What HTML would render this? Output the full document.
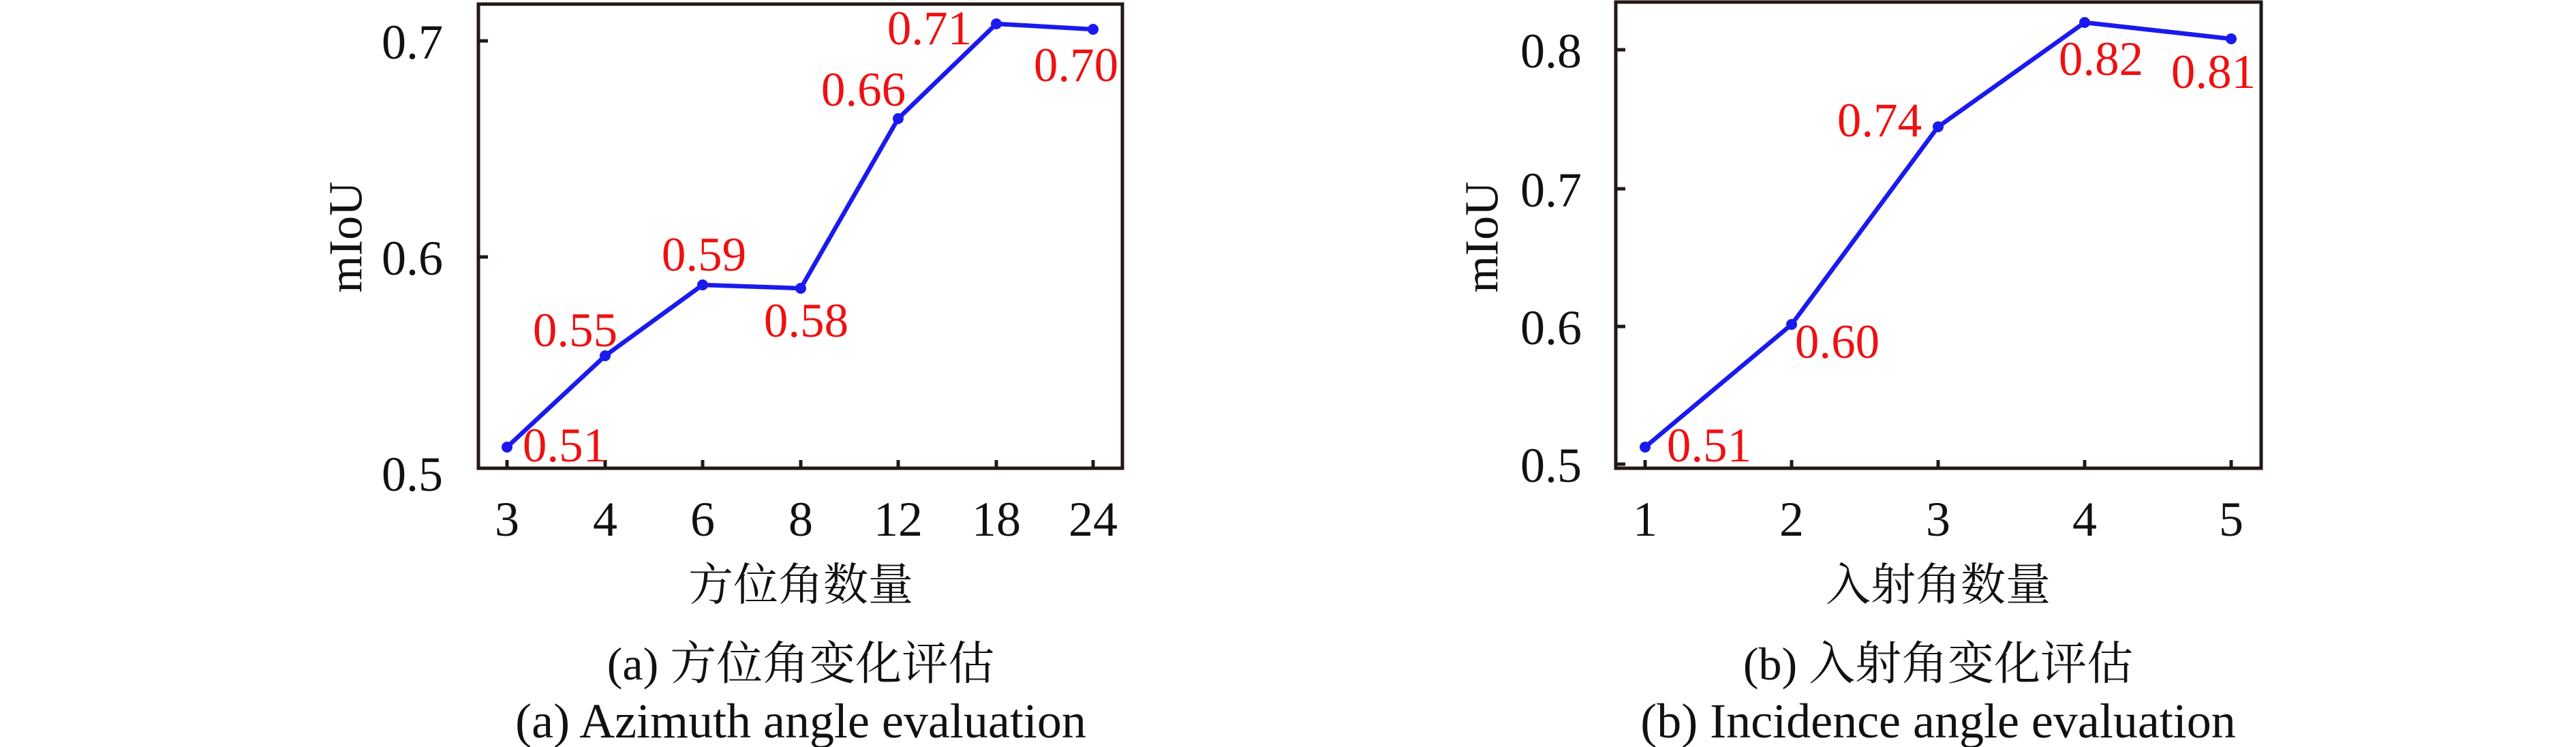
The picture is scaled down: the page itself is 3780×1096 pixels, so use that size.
<!DOCTYPE html>
<html><head><meta charset="utf-8"><style>
html,body{margin:0;padding:0;background:#fff;}
svg{display:block;}
text{font-family:"Liberation Serif","Noto Serif CJK SC",serif;}
.cj{font-family:"Liberation Serif","Noto Serif CJK SC","Noto Sans CJK SC",serif;}
</style></head><body>
<svg width="3780" height="1096" viewBox="0 0 3780 1096" xmlns="http://www.w3.org/2000/svg">
<!-- Left plot -->
<g stroke="#231815" stroke-width="5" fill="none">
<rect x="702" y="6" width="945" height="681"/>
<line x1="702" y1="60" x2="716" y2="60"/>
<line x1="702" y1="377" x2="716" y2="377"/>
<line x1="744" y1="687" x2="744" y2="675"/><line x1="888" y1="687" x2="888" y2="675"/>
<line x1="1031" y1="687" x2="1031" y2="675"/><line x1="1175" y1="687" x2="1175" y2="675"/>
<line x1="1318" y1="687" x2="1318" y2="675"/><line x1="1462" y1="687" x2="1462" y2="675"/>
<line x1="1604" y1="687" x2="1604" y2="675"/>
</g>
<polyline points="744,656 888,522 1031,418 1175,423 1318,174 1462,35 1604,43" fill="none" stroke="#1a1aee" stroke-width="6.5"/>
<g fill="#1a1aee"><circle cx="744" cy="656" r="8"/><circle cx="888" cy="522" r="8"/><circle cx="1031" cy="418" r="8"/><circle cx="1175" cy="423" r="8"/><circle cx="1318" cy="174" r="8"/><circle cx="1462" cy="35" r="8"/><circle cx="1604" cy="43" r="8"/></g>
<g font-size="72" fill="#111" dominant-baseline="central">
<text x="650" y="62" text-anchor="end">0.7</text>
<text x="650" y="379" text-anchor="end">0.6</text>
<text x="650" y="696" text-anchor="end">0.5</text>
<g text-anchor="middle">
<text x="744" y="762">3</text><text x="888" y="762">4</text><text x="1031" y="762">6</text><text x="1175" y="762">8</text><text x="1318" y="762">12</text><text x="1462" y="762">18</text><text x="1604" y="762">24</text>
</g>
</g>
<g font-size="71" fill="#ee1111" text-anchor="middle" dominant-baseline="central">
<text x="829" y="654">0.51</text><text x="844" y="485">0.55</text><text x="1033" y="374">0.59</text><text x="1183" y="471">0.58</text><text x="1267" y="132">0.66</text><text x="1364" y="42">0.71</text><text x="1579" y="96">0.70</text>
</g>
<text x="508" y="348" font-size="70" fill="#111" text-anchor="middle" dominant-baseline="central" transform="rotate(-90 508 348)">mIoU</text>
<text class="cj" x="1175" y="859" font-size="66" fill="#111" text-anchor="middle" dominant-baseline="central">方位角数量</text>
<text class="cj" x="1175" y="974" font-size="68" fill="#111" text-anchor="middle" dominant-baseline="central">(a) 方位角变化评估</text>
<text x="1175" y="1058" font-size="72" fill="#111" text-anchor="middle" dominant-baseline="central">(a) Azimuth angle evaluation</text>

<!-- Right plot -->
<g stroke="#231815" stroke-width="5" fill="none">
<rect x="2371" y="3" width="947" height="684"/>
<line x1="2371" y1="73" x2="2385" y2="73"/>
<line x1="2371" y1="277" x2="2385" y2="277"/>
<line x1="2371" y1="479" x2="2385" y2="479"/>
<line x1="2371" y1="681" x2="2385" y2="681"/>
<line x1="2414" y1="687" x2="2414" y2="675"/><line x1="2629" y1="687" x2="2629" y2="675"/>
<line x1="2844" y1="687" x2="2844" y2="675"/><line x1="3059" y1="687" x2="3059" y2="675"/>
<line x1="3274" y1="687" x2="3274" y2="675"/>
</g>
<polyline points="2414,656 2629,476 2844,186 3059,33 3274,57" fill="none" stroke="#1a1aee" stroke-width="6.5"/>
<g fill="#1a1aee"><circle cx="2414" cy="656" r="8"/><circle cx="2629" cy="476" r="8"/><circle cx="2844" cy="186" r="8"/><circle cx="3059" cy="33" r="8"/><circle cx="3274" cy="57" r="8"/></g>
<g font-size="72" fill="#111" dominant-baseline="central">
<text x="2321" y="75" text-anchor="end">0.8</text>
<text x="2321" y="279" text-anchor="end">0.7</text>
<text x="2321" y="481" text-anchor="end">0.6</text>
<text x="2321" y="683" text-anchor="end">0.5</text>
<g text-anchor="middle">
<text x="2414" y="762">1</text><text x="2629" y="762">2</text><text x="2844" y="762">3</text><text x="3059" y="762">4</text><text x="3274" y="762">5</text>
</g>
</g>
<g font-size="71" fill="#ee1111" text-anchor="middle" dominant-baseline="central">
<text x="2508" y="654">0.51</text><text x="2696" y="502">0.60</text><text x="2758" y="177">0.74</text><text x="3083" y="87">0.82</text><text x="3248" y="106">0.81</text>
</g>
<text x="2175" y="348" font-size="70" fill="#111" text-anchor="middle" dominant-baseline="central" transform="rotate(-90 2175 348)">mIoU</text>
<text class="cj" x="2844" y="859" font-size="66" fill="#111" text-anchor="middle" dominant-baseline="central">入射角数量</text>
<text class="cj" x="2844" y="974" font-size="68" fill="#111" text-anchor="middle" dominant-baseline="central">(b) 入射角变化评估</text>
<text x="2844" y="1058" font-size="72" fill="#111" text-anchor="middle" dominant-baseline="central">(b) Incidence angle evaluation</text>
</svg>
</body></html>
